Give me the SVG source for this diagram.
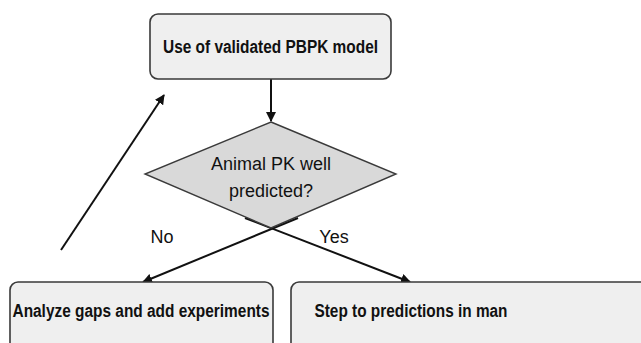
<svg xmlns="http://www.w3.org/2000/svg" width="641" height="343" viewBox="0 0 641 343">
<defs>
<style>
.box{fill:#efefef;stroke:#3a3a3a;stroke-width:1.6}
.dia{fill:#d9d9d9;stroke:#3a3a3a;stroke-width:1.4}
.b{font-family:"Liberation Sans",Arial,sans-serif;font-weight:bold;font-size:18px;fill:#111;text-anchor:middle}
.n{font-family:"Liberation Sans",Arial,sans-serif;font-size:18px;fill:#111;text-anchor:middle}
.ln{stroke:#111;stroke-width:2;fill:none}
</style>
<marker id="ah" viewBox="0 0 10 10" refX="9" refY="5" markerWidth="5" markerHeight="5" orient="auto" markerUnits="strokeWidth">
<path d="M0,0 L10,5 L0,10 z" fill="#111"/>
</marker>
</defs>
<rect width="641" height="343" fill="#fff"/>
<g id="connectors">
<line class="ln" x1="271" y1="79" x2="271" y2="121" marker-end="url(#ah)"/>
<line class="ln" x1="298" y1="218" x2="143" y2="282" marker-end="url(#ah)"/>
<line class="ln" x1="245" y1="218" x2="410" y2="282" marker-end="url(#ah)"/>
<line class="ln" x1="61" y1="250" x2="164" y2="95" marker-end="url(#ah)"/>
<text class="n" x="162" y="243">No</text>
<text class="n" x="334" y="243">Yes</text>
</g>
<g id="node-model">
<rect class="box" x="150" y="14" width="241" height="65" rx="8"/>
<text class="b" x="270.5" y="53" textLength="215" lengthAdjust="spacingAndGlyphs">Use of validated PBPK model</text>
</g>
<g id="node-decision">
<polygon class="dia" points="271,122 396,174 271,228 145,174"/>
<text class="n" x="271" y="170">Animal PK well</text>
<text class="n" x="271" y="197">predicted?</text>
</g>
<g id="node-analyze">
<rect class="box" x="10" y="282" width="263" height="80" rx="8"/>
<text class="b" x="141" y="317" textLength="257" lengthAdjust="spacingAndGlyphs">Analyze gaps and add experiments</text>
</g>
<g id="node-step">
<rect class="box" x="291" y="282" width="370" height="80" rx="8"/>
<text class="b" x="411" y="317" textLength="193" lengthAdjust="spacingAndGlyphs">Step to predictions in man</text>
</g>
</svg>
